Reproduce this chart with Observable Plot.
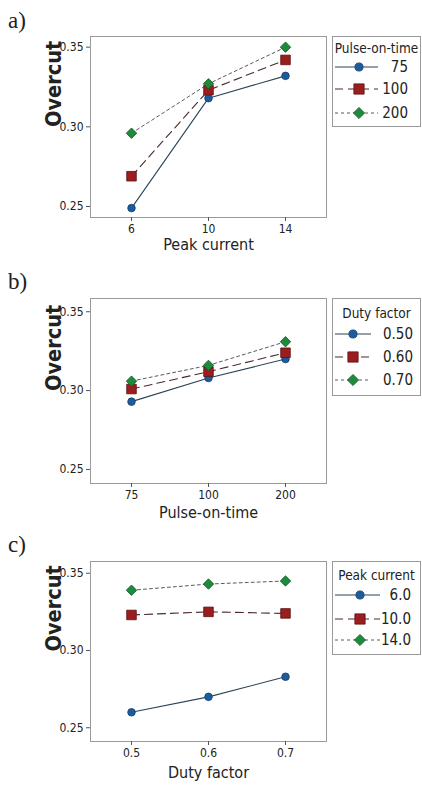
<!DOCTYPE html>
<html><head><meta charset="utf-8">
<script src="https://cdn.jsdelivr.net/npm/d3@7"></script>
<script src="https://cdn.jsdelivr.net/npm/@observablehq/plot@0.6"></script>
<style>
body{margin:0;background:#fff;}
#root{position:relative;width:422px;height:785px;overflow:hidden;font-family:"DejaVu Sans Condensed","Liberation Sans Narrow",sans-serif;color:#222;}
.panel{position:absolute;left:0;}
.tag{position:absolute;left:8px;font-family:"Liberation Serif","DejaVu Serif",serif;font-size:23px;line-height:26px;color:#222;}
</style></head>
<body><div id="root"></div>
<script>
// ---------- data ----------
const peakCurrent = ["6", "10", "14"];
const pulseOnTime = ["75", "100", "200"];
const dutyFactor = ["0.5", "0.6", "0.7"];
const pulseLegend = ["75", "100", "200"];
const dutyLegend = ["0.50", "0.60", "0.70"];
const peakLegend = ["6.0", "10.0", "14.0"];
const yTicks = [0.25, 0.30, 0.35];

// a) Overcut vs Peak current, by Pulse-on-time
const a_pulse75 = [0.249, 0.318, 0.332];
const a_pulse100 = [0.269, 0.323, 0.342];
const a_pulse200 = [0.296, 0.327, 0.350];
// b) Overcut vs Pulse-on-time, by Duty factor
const b_duty050 = [0.293, 0.308, 0.320];
const b_duty060 = [0.301, 0.312, 0.324];
const b_duty070 = [0.306, 0.316, 0.331];
// c) Overcut vs Duty factor, by Peak current
const c_peak6 = [0.260, 0.270, 0.283];
const c_peak10 = [0.323, 0.325, 0.324];
const c_peak14 = [0.339, 0.343, 0.345];

// ---------- styles ----------
const styles = [
  {symbol: "circle", fill: "#1d5c9c", stroke: "#163f6b", r: 3.8, line: "#2b4456", dash: null, sw: 1.1},
  {symbol: "square", fill: "#9a1d1f", stroke: "#5e1112", r: 5.4, line: "#4d2b2b", dash: "8,5", sw: 1.1},
  {symbol: "diamond2", fill: "#1d8a3c", stroke: "#0f5a25", r: 4.7, line: "#5a5a5a", dash: "3,3", sw: 1}
];
const d3sym = {circle: d3.symbolCircle, square: d3.symbolSquare, diamond2: d3.symbolDiamond2};
const FONT = '"DejaVu Sans Condensed","Liberation Sans Narrow",sans-serif';

const root = document.getElementById("root");

function panel(cfg) {
  const rows = [];
  cfg.series.forEach((vals, s) => vals.forEach((v, i) => rows.push({x: cfg.cats[i], y: v, s})));
  const marks = [
    Plot.frame({stroke: "#9a9a9a"}),
    Plot.axisX({tickSize: 4, tickPadding: 3, fontSize: 12, label: null, stroke: "#555"}),
    Plot.axisY({ticks: yTicks, tickFormat: d3.format(".2f"), tickSize: 4, tickPadding: 3, fontSize: 12, label: null, stroke: "#555"})
  ];
  styles.forEach((st, k) => {
    marks.push(Plot.line(rows.filter(d => d.s === k), {x: "x", y: "y", stroke: st.line, strokeWidth: st.sw, strokeDasharray: st.dash}));
  });
  styles.forEach((st, k) => {
    marks.push(Plot.dot(rows.filter(d => d.s === k), {x: "x", y: "y", symbol: st.symbol, r: st.r, fill: st.fill, stroke: st.stroke, strokeWidth: 0.8}));
  });
  marks.push(Plot.text([cfg.xLabel], {text: d => d, frameAnchor: "bottom", dy: cfg.xLabelDy, lineAnchor: "middle", fontSize: 16, fill: "#222"}));
  marks.push(Plot.text(["Overcut"], {text: d => d, frameAnchor: "left", dx: -36, rotate: -90, lineAnchor: "middle", fontSize: 21.5, fontWeight: "bold", fill: "#222"}));

  const chart = Plot.plot({
    width: 330, height: cfg.height,
    marginLeft: 90, marginRight: 4, marginTop: cfg.marginTop, marginBottom: 35,
    x: {type: "point", domain: cfg.cats, padding: 0.52},
    y: {domain: cfg.yDomain},
    style: {fontFamily: FONT, fontSize: "12px", color: "#222", background: "white", overflow: "visible"},
    marks
  });
  const div = document.createElement("div");
  div.className = "panel";
  div.style.top = cfg.top + "px";
  div.appendChild(chart);
  root.appendChild(div);

  // panel tag
  const tag = document.createElement("div");
  tag.className = "tag";
  tag.style.top = cfg.tagTop + "px";
  tag.textContent = cfg.tag;
  root.appendChild(tag);

  // legend
  const L = cfg.legend;
  const svg = d3.create("svg").attr("width", 90).attr("height", L.h + 2)
    .style("position", "absolute").style("left", "332px").style("top", L.top + "px")
    .style("font-family", FONT);
  svg.append("rect").attr("x", 0.5).attr("y", 0.5).attr("width", 88).attr("height", L.h)
    .attr("fill", "white").attr("stroke", "#9a9a9a");
  svg.append("text").attr("x", 44.5).attr("y", L.titleY).attr("text-anchor", "middle")
    .attr("dominant-baseline", "central").attr("font-size", 13.5).attr("fill", "#222").text(L.title);
  L.labels.forEach((lab, k) => {
    const st = styles[k], y = L.itemY[k];
    svg.append("line").attr("x1", 3).attr("x2", L.lineEnd).attr("y1", y).attr("y2", y)
      .attr("stroke", st.line).attr("stroke-width", st.sw).attr("stroke-dasharray", st.dash);
    svg.append("path").attr("transform", `translate(${L.markX},${y})`)
      .attr("d", d3.symbol(d3sym[st.symbol], Math.PI * st.r * st.r * 1.15)())
      .attr("fill", st.fill).attr("stroke", st.stroke).attr("stroke-width", 0.8);
    svg.append("text").attr("x", L.labelRight).attr("y", y).attr("text-anchor", "end")
      .attr("dominant-baseline", "central").attr("font-size", 15).attr("fill", "#222").text(lab);
  });
  root.appendChild(svg.node());
}

panel({
  top: 0, marginTop: 36, height: 252, tag: "a)", tagTop: 8,
  cats: peakCurrent, series: [a_pulse75, a_pulse100, a_pulse200],
  xLabel: "Peak current", xLabelDy: 27, yDomain: [0.2431, 0.3567],
  legend: {top: 36, h: 90, title: "Pulse-on-time", titleY: 12, itemY: [31, 53, 77], labels: pulseLegend,
           lineEnd: 46, markX: 27, labelRight: 76}
});
panel({
  top: 260, marginTop: 38, height: 258, tag: "b)", tagTop: 269,
  cats: pulseOnTime, series: [b_duty050, b_duty060, b_duty070],
  xLabel: "Pulse-on-time", xLabelDy: 29, yDomain: [0.2411, 0.3584],
  legend: {top: 298, h: 97, title: "Duty factor", titleY: 15, itemY: [36, 59, 82], labels: dutyLegend,
           lineEnd: 39, markX: 21, labelRight: 81}
});
panel({
  top: 525, marginTop: 36, height: 251, tag: "c)", tagTop: 532,
  cats: dutyFactor, series: [c_peak6, c_peak10, c_peak14],
  xLabel: "Duty factor", xLabelDy: 31, yDomain: [0.2411, 0.3576],
  legend: {top: 561, h: 93, title: "Peak current", titleY: 14, itemY: [34, 58, 79], labels: peakLegend,
           lineEnd: 48, markX: 28, labelRight: 79}
});
</script>
</body></html>
